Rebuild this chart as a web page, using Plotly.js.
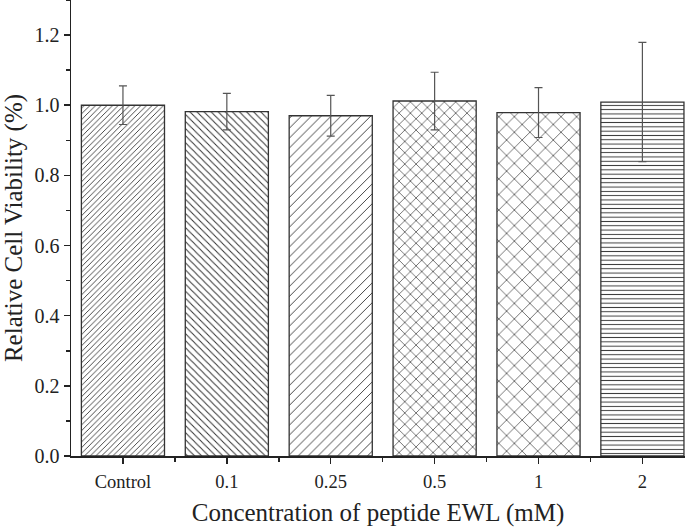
<!DOCTYPE html>
<html>
<head>
<meta charset="utf-8">
<script src="https://cdn.plot.ly/plotly-3.0.1.min.js"></script>
<style>
  html, body { margin: 0; padding: 0; background: #fff; }
  #myDiv { width: 685px; height: 528px; }
</style>
</head>
<body>
<div id="myDiv"></div>
<script>
var categories = ['Control', '0.1', '0.25', '0.5', '1', '2'];
var viability = [1.000, 0.982, 0.970, 1.012, 0.979, 1.009];
var errors = [0.055, 0.052, 0.058, 0.082, 0.071, 0.170];
var patterns = ['/', '\\', '/', 'x', 'x', '-'];
var patternSizes = [4, 5, 7, 8, 11, 4.3];
var patternSolidity = [0.22, 0.2, 0.13, 0.16, 0.12, 0.22];

var positions = categories.map(function (c, i) { return i; });

var trace1 = {
    x: positions,
    y: viability,
    type: 'bar',
    width: 0.8,
    marker: {
        color: 'white',
        line: { color: '#333', width: 1.3 },
        pattern: {
            shape: patterns,
            size: patternSizes,
            solidity: patternSolidity,
            fgcolor: '#333',
            bgcolor: 'white'
        }
    },
    error_y: {
        type: 'data',
        array: errors,
        visible: true,
        color: '#555',
        thickness: 1.2,
        width: 4
    },
    hoverinfo: 'none'
};

var layout = {
    width: 685,
    height: 528,
    margin: { l: 71, r: 0, t: 0, b: 72 },
    paper_bgcolor: 'white',
    plot_bgcolor: 'white',
    showlegend: false,
    font: { family: 'Liberation Serif, Times New Roman, serif', color: '#222' },
    xaxis: {
        range: [-0.5, 5.41],
        tickvals: positions,
        ticktext: categories,
        ticks: 'outside',
        ticklen: 6,
        tickwidth: 1.5,
        tickcolor: '#222',
        ticklabelstandoff: 2,
        showline: true,
        linecolor: '#222',
        linewidth: 1.5,
        showgrid: false,
        zeroline: false,
        tickfont: { size: 18.5 },
        minor: { tickvals: [0.5, 1.5, 2.5, 3.5, 4.5], ticks: 'outside', ticklen: 4, tickwidth: 1.5, tickcolor: '#222', showgrid: false },
        title: { text: 'Concentration of peptide EWL (mM)', font: { size: 25 }, standoff: 13 }
    },
    yaxis: {
        range: [0, 1.3],
        dtick: 0.2,
        tickformat: '.1f',
        ticks: 'outside',
        ticklen: 6,
        tickwidth: 1.5,
        tickcolor: '#222',
        showline: true,
        linecolor: '#222',
        linewidth: 1.5,
        showgrid: false,
        zeroline: false,
        tickfont: { size: 20 },
        minor: { dtick: 0.1, ticks: 'outside', ticklen: 4, tickwidth: 1.5, tickcolor: '#222', showgrid: false },
        title: { text: 'Relative Cell Viability (%)', font: { size: 25 }, standoff: 6 }
    }
};

Plotly.newPlot('myDiv', [trace1], layout, { displayModeBar: false, staticPlot: true });
</script>
</body>
</html>
